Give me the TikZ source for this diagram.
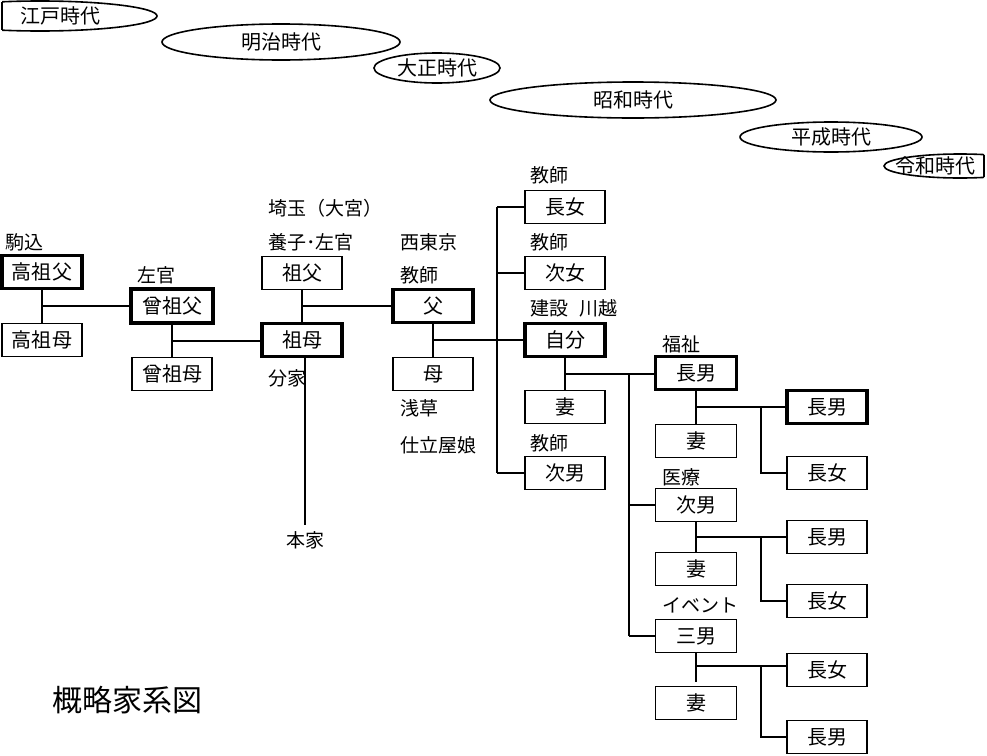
\documentclass[tikz,border=0pt]{standalone}
\usepackage{fontspec}
\setmainfont{Noto Sans CJK JP}
\usetikzlibrary{calc}
\tikzset{
  person/.style={draw, line width=1.8pt, minimum width=80pt, minimum height=33pt, inner sep=0pt, font=\fontsize{20}{20}\selectfont},
  stamm/.style={person, line width=3.5pt},
  notiz/.style={anchor=west, inner sep=0pt, font=\fontsize{19}{19}\selectfont},
  linie/.style={line width=2pt},
  zeitalter/.style={line width=1.6pt},
  zeittext/.style={inner sep=0pt, font=\fontsize{20}{20}\selectfont}
}

\begin{document}
\begin{tikzpicture}[x=1pt, y=-1pt] % 1 Pixel = 1pt, y nach unten
\useasboundingbox (0,0) rectangle (987,755);
% Zeitalter
\begin{scope}
\clip (2,0) rectangle (984,200);
\foreach \i/\cx/\cy/\rx/\ry/\tx/\zeit in {1/40/16/117/15/60/江戸時代, 2/281/42/119/18/281/明治時代, 3/437/68/63/15/437/大正時代, 4/633/100/143/18/633/昭和時代, 5/831/137/91/15/831/平成時代, 6/960/166/76/12/935/令和時代} {
  \draw[zeitalter] (\cx,\cy) ellipse [x radius=\rx pt, y radius=\ry pt];
  \node[zeittext] (zeit\i) at (\tx,\cy) {\zeit};
}
\end{scope}
\draw[zeitalter] (2,1.8) -- (2,30.2); % abgeschnitten links
\draw[zeitalter] (984,154.6) -- (984,177.4); % abgeschnitten rechts
% Vorfahren
\node[stamm]  (takasofu) at (42,272) {高祖父};
\node[person] (takasobo) at (42,340) {高祖母};
\node[stamm, minimum width=82pt, minimum height=34pt] (hiisofu) at (172,306) {曾祖父};
\node[person] (hiisobo) at (172,374) {曾祖母};
\node[person] (sofu) at (302,273) {祖父};
\node[stamm]  (sobo) at (302,340) {祖母};
\node[stamm]  (chichi) at (433,306) {父};
\node[person] (haha) at (433,374) {母};
% Kinder
\node[person] (chojo) at (565,207) {長女};
\node[person] (jijo) at (565,273) {次女};
\node[stamm]  (jibun) at (565,340) {自分};
\node[person] (tsuma) at (565,407) {妻};
\node[person] (jinan) at (565,473) {次男};
% Enkel
\node[stamm, minimum width=81pt] (mago1) at (696,373) {長男};
\node[person, minimum width=81pt] (tsuma1) at (696,441) {妻};
\node[person, minimum width=81pt] (mago2) at (696,505) {次男};
\node[person, minimum width=81pt] (tsuma2) at (696,569) {妻};
\node[person, minimum width=81pt] (mago3) at (696,636) {三男};
\node[person, minimum width=81pt] (tsuma3) at (696,703) {妻};
% Urenkel
\node[stamm]  (uren1) at (827,407) {長男};
\node[person] (uren2) at (827,473) {長女};
\node[person] (uren3) at (827,537) {長男};
\node[person] (uren4) at (827,601) {長女};
\node[person] (uren5) at (827,670) {長女};
\node[person] (uren6) at (827,737) {長男};
% Notizen
\node[notiz] (komagome) at (5,242) {駒込};
\node[notiz] (sakan1) at (137,275) {左官};
\node[notiz] (saitama) at (268,208) {埼玉（大宮）};
\node[notiz] (yoshi) at (268,242) {養子･左官};
\node[notiz] (nishitokyo) at (400,242) {西東京};
\node[notiz] (kyoshi1) at (400,275) {教師};
\node[notiz] (bunke) at (268,378) {分家};
\node[notiz] (asakusa) at (400,408) {浅草};
\node[notiz] (shitateya) at (400,445) {仕立屋娘};
\node[notiz] (kyoshi2) at (530,175) {教師};
\node[notiz] (kyoshi3) at (530,242) {教師};
\node[notiz] (kensetsu) at (530,308) {建設\hspace{0.6em}川越};
\node[notiz] (kyoshi4) at (530,443) {教師};
\node[notiz] (fukushi) at (662,344) {福祉};
\node[notiz] (iryo) at (662,477) {医療};
\node[notiz] (event) at (662,605) {イベント};
\node[notiz, anchor=center] (honke) at (305,540) {本家};
% Titel
\node[anchor=west, inner sep=0pt, font=\fontsize{30}{30}\selectfont] (titel) at (52,700) {概略家系図};
% Linien Vorfahren
\draw[linie] (takasofu) -- (takasobo);
\coordinate (p1) at ($(takasofu.south)!.5!(takasobo.north)$);
\draw[linie] (p1) -- (p1 -| hiisofu.west);
\draw[linie] (hiisofu) -- (hiisobo);
\coordinate (p2) at ($(hiisofu.south)!.5!(hiisobo.north)$);
\draw[linie] (p2) -- (p2 -| sobo.west);
\draw[linie] (sofu) -- (sobo);
\coordinate (p3) at ($(sofu.south)!.5!(sobo.north)$);
\draw[linie] (p3) -- (p3 -| chichi.west);
\draw[linie] (sobo.south -| honke.north) -- ([yshift=6pt]honke.north); % Hauptfamilie
\draw[linie] (chichi) -- (haha);
\coordinate (p4) at ($(chichi.south)!.5!(haha.north)$);
\draw[linie] (p4) -- (p4 -| jibun.west);
% Kinder
\coordinate (k) at (497,0);
\draw[linie] (k |- chojo.west) -- (k |- jinan.west);
\foreach \n in {chojo, jijo, jinan} {
  \draw[linie] (k |- \n.west) -- (\n.west);
}
\draw[linie] (jibun) -- (tsuma);
\coordinate (p5) at ($(jibun.south)!.5!(tsuma.north)$);
\draw[linie] (p5) -- (p5 -| mago1.west);
% Enkel
\coordinate (e) at (629,0);
\draw[linie] (e |- p5) -- (e |- mago3.west);
\foreach \n in {mago2, mago3} {
  \draw[linie] (e |- \n.west) -- (\n.west);
}
\coordinate (u) at (761,0);
\draw[linie] (mago1) -- (tsuma1);
\coordinate (p6) at ($(mago1.south)!.5!(tsuma1.north)$);
\draw[linie] (p6) -- (p6 -| uren1.west);
\draw[linie] (u |- p6) -- (u |- uren2.west) -- (uren2.west);
\draw[linie] (mago2) -- (tsuma2);
\coordinate (p7) at ($(mago2.south)!.5!(tsuma2.north)$);
\draw[linie] (p7) -- (p7 -| uren3.west);
\draw[linie] (u |- p7) -- (u |- uren4.west) -- (uren4.west);
\coordinate (p8) at ($(mago3.south)+(0,13)$);
\draw[linie] (mago3.south) -- ($(mago3.south)+(0,29)$);
\draw[linie] (p8) -- (p8 -| uren5.west);
\draw[linie] (u |- p8) -- (u |- uren6.west) -- (uren6.west);
\end{tikzpicture}
\end{document}
